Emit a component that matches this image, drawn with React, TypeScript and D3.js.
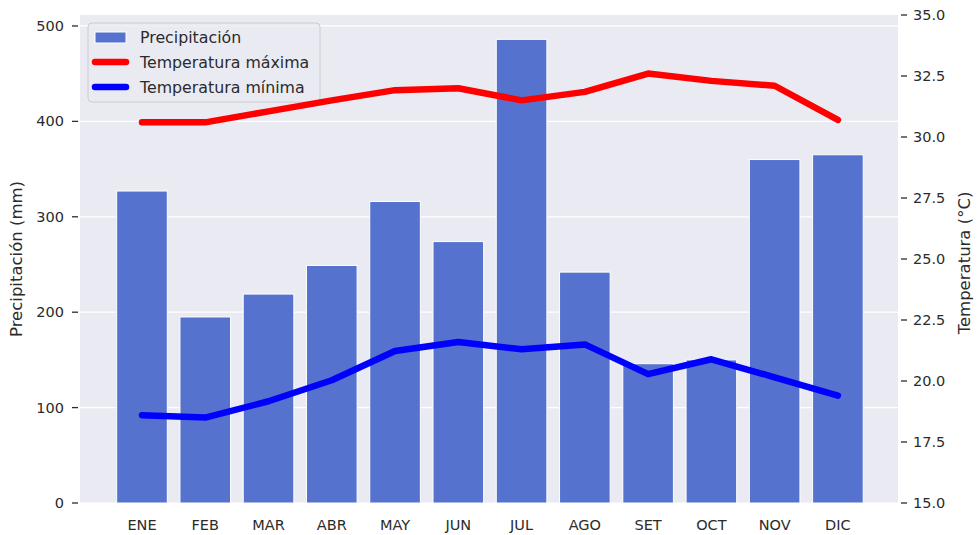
import React from "react";
import * as d3 from "d3";

const months = ["ENE", "FEB", "MAR", "ABR", "MAY", "JUN", "JUL", "AGO", "SET", "OCT", "NOV", "DIC"];
const precipitation = [327, 195, 219, 249, 316, 274, 486, 242, 146, 150, 360, 365];
const tempMax = [30.6, 30.6, 31.05, 31.5, 31.92, 32.0, 31.5, 31.85, 32.6, 32.3, 32.1, 30.7];
const tempMin = [18.6, 18.5, 19.17, 20.03, 21.23, 21.6, 21.3, 21.5, 20.28, 20.89, 20.15, 19.4];
const leftTicks = [0, 100, 200, 300, 400, 500];
const rightTicks = [15, 17.5, 20, 22.5, 25, 27.5, 30, 32.5, 35];

const W = 978;
const H = 535;
const L = 80, R = 898, T = 15, B = 503;
const BG = "#EAEAF2";
const BAR = "#5573CE";
const TXT = "#2b2b2b";
const FONT = "'DejaVu Sans', sans-serif";

export default function App() {
  const x = d3.scaleLinear().domain([-0.98, 11.95]).range([L, R]);
  const yL = d3.scaleLinear().domain([0, 511.5]).range([B, T]);
  const yR = d3.scaleLinear().domain([15, 35]).range([B, T]);
  const bw = x(0.4) - x(-0.4);

  const lineMax = d3.line<number>().x((_, i) => x(i)).y((d) => yR(d))(tempMax) || "";
  const lineMin = d3.line<number>().x((_, i) => x(i)).y((d) => yR(d))(tempMin) || "";

  return (
    <svg width={W} height={H} style={{ position: "absolute", left: 0, top: 0 }} fontFamily={FONT}>
      <rect x={0} y={0} width={W} height={H} fill="#ffffff" />
      <rect x={L} y={T} width={R - L} height={B - T} fill={BG} />
      {leftTicks.map((t) => (
        <line key={"g" + t} x1={L} x2={R} y1={yL(t)} y2={yL(t)} stroke="#ffffff" strokeWidth={1.2} />
      ))}
      {precipitation.map((v, i) => (
        <rect
          key={"b" + i}
          x={x(i) - bw / 2}
          y={yL(v)}
          width={bw}
          height={yL(0) - yL(v)}
          fill={BAR}
          stroke="#ffffff"
          strokeWidth={1}
        />
      ))}
      {/* left axis */}
      {leftTicks.map((t) => (
        <g key={"lt" + t}>
          <line x1={L - 8} x2={L - 2} y1={yL(t)} y2={yL(t)} stroke={TXT} strokeWidth={1.3} />
          <text x={L - 16} y={yL(t)} dy="0.35em" textAnchor="end" fontSize={14.5} fill={TXT}>
            {t}
          </text>
        </g>
      ))}
      {/* right axis */}
      {rightTicks.map((t) => (
        <g key={"rt" + t}>
          <line x1={R + 3} x2={R + 9} y1={yR(t)} y2={yR(t)} stroke={TXT} strokeWidth={1.3} />
          <text x={R + 15} y={yR(t)} dy="0.35em" textAnchor="start" fontSize={14.5} fill={TXT}>
            {t.toFixed(1)}
          </text>
        </g>
      ))}
      {/* x labels */}
      {months.map((m, i) => (
        <text key={"x" + m} x={x(i)} y={525} dy="0.35em" textAnchor="middle" fontSize={14.5} fill={TXT}>
          {m}
        </text>
      ))}
      <text
        transform={`translate(16,${(T + B) / 2}) rotate(-90)`}
        textAnchor="middle"
        dy="0.35em"
        fontSize={16.5}
        fill={TXT}
      >
        Precipitación (mm)
      </text>
      <text
        transform={`translate(964,${(T + B) / 2 + 4}) rotate(-90)`}
        textAnchor="middle"
        dy="0.35em"
        fontSize={16.5}
        fill={TXT}
      >
        Temperatura (°C)
      </text>
      {/* legend */}
      <g>
        <rect x={88} y={23} width={232} height={79} rx={4} fill={BG} fillOpacity={0.8} stroke="#CCCCCC" strokeWidth={1} />
        <rect x={95} y={32} width={31} height={11} fill={BAR} stroke="#ffffff" strokeWidth={1} />
        <line x1={95} x2={126} y1={62} y2={62} stroke="#FF0000" strokeWidth={6.5} strokeLinecap="round" />
        <line x1={95} x2={126} y1={87} y2={87} stroke="#0000FF" strokeWidth={6.5} strokeLinecap="round" />
        <text x={140} y={37} dy="0.35em" fontSize={15.8} fill={TXT}>Precipitación</text>
        <text x={140} y={62} dy="0.35em" fontSize={15.8} fill={TXT}>Temperatura máxima</text>
        <text x={140} y={87} dy="0.35em" fontSize={15.8} fill={TXT}>Temperatura mínima</text>
      </g>
      <path d={lineMax} fill="none" stroke="#FF0000" strokeWidth={6.5} strokeLinecap="round" strokeLinejoin="round" />
      <path d={lineMin} fill="none" stroke="#0000FF" strokeWidth={6.5} strokeLinecap="round" strokeLinejoin="round" />
    </svg>
  );
}
